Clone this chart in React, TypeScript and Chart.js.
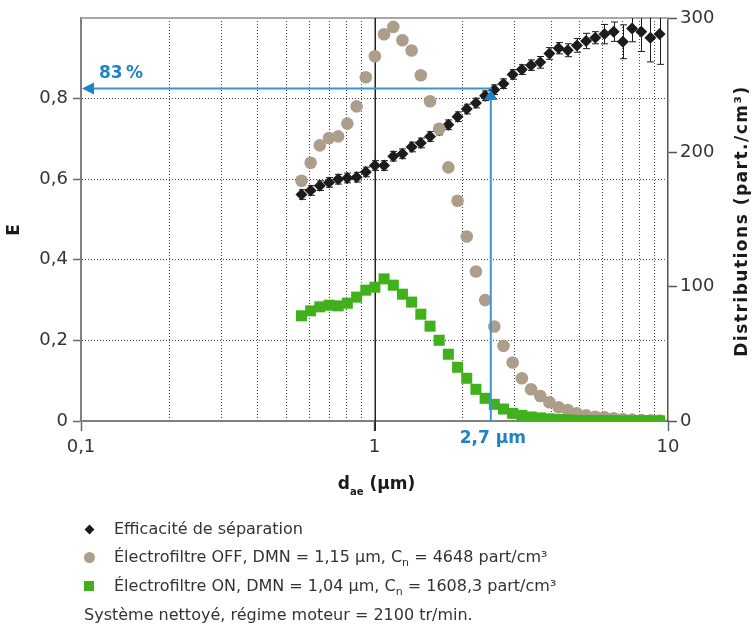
import React, { useEffect, useRef } from "react";
import { Chart, registerables } from "chart.js";

Chart.register(...registerables);

const FONT = "'DejaVu Sans', 'Liberation Sans', sans-serif";

// aerodynamic diameter d_ae (µm), one value per size channel
const diameters = [
  0.564, 0.606, 0.651, 0.7, 0.752, 0.808, 0.869, 0.934, 1.003, 1.078,
  1.159, 1.245, 1.338, 1.438, 1.546, 1.661, 1.785, 1.919, 2.062, 2.216,
  2.382, 2.56, 2.751, 2.956, 3.177, 3.415, 3.67, 3.944, 4.238, 4.555,
  4.895, 5.261, 5.654, 6.076, 6.53, 7.018, 7.542, 8.106, 8.711, 9.362,
];

// separation efficiency E (left axis)
const efficiency = [
  0.562, 0.572, 0.584, 0.592, 0.6, 0.603, 0.605, 0.618, 0.634, 0.634,
  0.657, 0.663, 0.68, 0.69, 0.706, 0.722, 0.735, 0.755, 0.774, 0.789,
  0.807, 0.822, 0.837, 0.86, 0.872, 0.883, 0.89, 0.912, 0.925, 0.92,
  0.932, 0.943, 0.951, 0.96, 0.966, 0.941, 0.974, 0.966, 0.951, 0.96,
];

// +/- error on E
const efficiencyError = [
  0.012, 0.012, 0.012, 0.012, 0.012, 0.012, 0.012, 0.012, 0.012, 0.012,
  0.012, 0.012, 0.012, 0.012, 0.012, 0.012, 0.012, 0.012, 0.012, 0.012,
  0.012, 0.012, 0.012, 0.012, 0.012, 0.013, 0.0145, 0.0145, 0.014, 0.016,
  0.017, 0.019, 0.015, 0.024, 0.024, 0.042, 0.033, 0.049, 0.06, 0.075,
];

// distribution, électrofiltre OFF (right axis, part./cm³)
const distributionOff = [
  178.9, 192.3, 205.2, 210.7, 211.9, 221.4, 234.2, 255.9, 271.5, 287.9,
  293.4, 283.4, 275.8, 257.4, 238.0, 217.6, 188.8, 164.0, 137.4, 111.3,
  90.0, 70.3, 55.9, 43.5, 31.8, 23.6, 18.6, 14.0, 10.2, 8.2,
  5.7, 4.2, 3.2, 2.8, 2.0, 1.5, 1.0, 0.8, 0.5, 0.3,
];

// distribution, électrofiltre ON (right axis, part./cm³)
const distributionOn = [
  78.3, 82.0, 85.0, 86.2, 85.7, 87.7, 92.2, 97.4, 99.6, 105.8,
  101.1, 94.4, 88.5, 79.5, 70.6, 60.1, 49.7, 40.0, 31.8, 23.6,
  16.9, 12.4, 8.9, 5.7, 4.2, 3.0, 2.3, 1.6, 1.1, 0.8,
  0.5, 0.4, 0.3, 0.3, 0.2, 0.2, 0.2, 0.2, 0.1, 0.1,
];

const xGridValues = [0.1, 0.2, 0.3, 0.4, 0.5, 0.6, 0.7, 0.8, 0.9, 1, 2, 3, 4, 5, 6, 7, 8, 9, 10];
const xLabelValues = [0.1, 1, 10];
const xLabelTexts = ["0,1", "1", "10"];
const leftTickValues = [0, 0.2, 0.4, 0.6, 0.8, 1];
const leftTickLabels = ["0", "0,2", "0,4", "0,6", "0,8", ""];
const rightTickValues = [0, 100, 200, 300];
const rightTickLabels = ["0", "100", "200", "300"];

const cutEfficiency = 0.825;
const cutDiameter = 2.49;
const cutEfficiencyLabel = "83\u2009%";
const cutDiameterLabel = "2,7 µm";

const leftTitle = "E";
const rightTitle = "Distributions (part./cm³)";
const xTitleMain = "d";
const xTitleSub = "ae";
const xTitleRest = " (µm)";

const seriesNames = [
  "Efficacité de séparation",
  "Électrofiltre OFF, DMN = 1,15 µm, C",
  "Électrofiltre ON, DMN = 1,04 µm, C",
];
const seriesNameTails = ["", " = 4648 part/cm³", " = 1608,3 part/cm³"];
const footnote = "Système nettoyé, régime moteur = 2100 tr/min.";

const COLOR_EFF = "#1c1c1c";
const COLOR_OFF = "#ad9e8c";
const COLOR_ON = "#40b11c";
const COLOR_BLUE = "#1f84c6";
const COLOR_BLUE_LINE = "#3a96d2";
const TRANSPARENT = "rgba(0,0,0,0)";
const GRID_DOT = [1, 2];

function lookup(values: number[], labels: string[], v: number): string {
  const i = values.findIndex((t) => Math.abs(t - v) < 1e-6);
  return i >= 0 ? labels[i] : "";
}
function isIn(values: number[], v: number): boolean {
  return values.some((t) => Math.abs(t - v) < 1e-6);
}

const decorPlugin = {
  id: "decor",
  beforeDatasetsDraw(chart: any) {
    const { ctx, chartArea } = chart;
    const xs = chart.scales.x;
    ctx.save();
    // top frame
    ctx.strokeStyle = "#a8a8a8";
    ctx.lineWidth = 2;
    ctx.beginPath();
    ctx.moveTo(chartArea.left, chartArea.top);
    ctx.lineTo(chartArea.right, chartArea.top);
    ctx.stroke();
    // solid line at 1 µm
    const x1 = Math.round(xs.getPixelForValue(1)) + 0.25;
    ctx.strokeStyle = "#222";
    ctx.lineWidth = 1.5;
    ctx.beginPath();
    ctx.moveTo(x1, chartArea.top);
    ctx.lineTo(x1, chartArea.bottom + 10);
    ctx.stroke();
    ctx.restore();
  },
  beforeDatasetDraw(chart: any, args: any) {
    if (args.index !== 0) return;
    const { ctx, chartArea } = chart;
    const xs = chart.scales.x;
    const ys = chart.scales.y;
    ctx.save();
    ctx.beginPath();
    ctx.rect(chartArea.left, chartArea.top, chartArea.right - chartArea.left, chartArea.bottom - chartArea.top);
    ctx.clip();
    ctx.strokeStyle = COLOR_EFF;
    ctx.lineWidth = 1;
    diameters.forEach((d, i) => {
      const px = Math.round(xs.getPixelForValue(d)) + 0.5;
      const yTop = ys.getPixelForValue(efficiency[i] + efficiencyError[i]);
      const yBot = ys.getPixelForValue(efficiency[i] - efficiencyError[i]);
      ctx.beginPath();
      ctx.moveTo(px, yTop);
      ctx.lineTo(px, yBot);
      ctx.moveTo(px - 3.5, yTop);
      ctx.lineTo(px + 3.5, yTop);
      ctx.moveTo(px - 3.5, yBot);
      ctx.lineTo(px + 3.5, yBot);
      ctx.stroke();
    });
    ctx.restore();
  },
  afterDatasetsDraw(chart: any) {
    const { ctx, chartArea } = chart;
    const xs = chart.scales.x;
    const ys = chart.scales.y;
    const yP = ys.getPixelForValue(cutEfficiency);
    const xP = xs.getPixelForValue(cutDiameter);
    ctx.save();
    ctx.strokeStyle = COLOR_BLUE_LINE;
    ctx.lineWidth = 2;
    ctx.beginPath();
    ctx.moveTo(chartArea.left + 10, yP);
    ctx.lineTo(xP + 1, yP);
    ctx.stroke();
    ctx.beginPath();
    ctx.moveTo(xP, yP + 8);
    ctx.lineTo(xP, chartArea.bottom);
    ctx.stroke();
    ctx.fillStyle = COLOR_BLUE;
    ctx.beginPath();
    ctx.moveTo(chartArea.left + 1, yP);
    ctx.lineTo(chartArea.left + 13, yP - 6);
    ctx.lineTo(chartArea.left + 13, yP + 6);
    ctx.closePath();
    ctx.fill();
    ctx.beginPath();
    ctx.moveTo(xP, yP + 1.5);
    ctx.lineTo(xP - 7, yP + 11.5);
    ctx.lineTo(xP + 7, yP + 11.5);
    ctx.closePath();
    ctx.fill();
    ctx.font = `bold 17px ${FONT}`;
    ctx.textAlign = "center";
    ctx.textBaseline = "middle";
    ctx.fillText(cutEfficiencyLabel, chartArea.left + 40, yP - 15);
    ctx.fillText(cutDiameterLabel, xP + 2, chartArea.bottom + 18);
    ctx.restore();
  },
  afterDraw(chart: any) {
    const { ctx, chartArea } = chart;
    ctx.save();
    ctx.fillStyle = "#1a1a1a";
    ctx.textAlign = "center";
    ctx.textBaseline = "middle";
    // left title
    ctx.save();
    ctx.translate(15, 230);
    ctx.rotate(-Math.PI / 2);
    ctx.font = `bold 17px ${FONT}`;
    ctx.fillText(leftTitle, 0, 0);
    ctx.restore();
    // right title
    ctx.save();
    ctx.translate(743, 221);
    ctx.rotate(-Math.PI / 2);
    ctx.font = `bold 17px ${FONT}`;
    (ctx as any).letterSpacing = "1.5px";
    ctx.fillText(rightTitle, 0, 0);
    (ctx as any).letterSpacing = "0px";
    ctx.restore();
    // x title with subscript
    const big = `bold 17px ${FONT}`;
    const small = `bold 10px ${FONT}`;
    ctx.textAlign = "left";
    ctx.textBaseline = "alphabetic";
    ctx.font = big;
    const w1 = ctx.measureText(xTitleMain).width;
    const w3 = ctx.measureText(xTitleRest).width;
    ctx.font = small;
    const w2 = ctx.measureText(xTitleSub).width;
    const total = w1 + w2 + w3;
    const cx = (chartArea.left + chartArea.right) / 2 + 2;
    const base = chartArea.bottom + 68;
    let x = cx - total / 2;
    ctx.font = big;
    ctx.fillText(xTitleMain, x, base);
    x += w1;
    ctx.font = small;
    ctx.fillText(xTitleSub, x, base + 6);
    x += w2;
    ctx.font = big;
    ctx.fillText(xTitleRest, x, base);
    ctx.restore();
  },
};

export default function App() {
  const canvasRef = useRef<HTMLCanvasElement | null>(null);

  useEffect(() => {
    const canvas = canvasRef.current;
    if (!canvas) return;
    const tickFont = { family: FONT, size: 18 };
    const chart = new Chart(canvas, {
      type: "scatter",
      data: {
        datasets: [
          {
            label: seriesNames[0],
            data: diameters.map((d, i) => ({ x: d, y: efficiency[i] })),
            yAxisID: "y",
            pointStyle: "rectRot",
            pointRadius: 6,
            backgroundColor: COLOR_EFF,
            borderWidth: 0,
            order: 3,
            clip: 0,
          },
          {
            label: seriesNames[1],
            data: diameters.map((d, i) => ({ x: d, y: distributionOff[i] })),
            yAxisID: "y2",
            pointStyle: "circle",
            pointRadius: 6.3,
            backgroundColor: COLOR_OFF,
            borderWidth: 0,
            order: 2,
            clip: 0,
          },
          {
            label: seriesNames[2],
            data: diameters.map((d, i) => ({ x: d, y: distributionOn[i] })),
            yAxisID: "y2",
            pointStyle: "rect",
            pointRadius: 7.8,
            backgroundColor: COLOR_ON,
            borderWidth: 0,
            order: 1,
            clip: 0,
          },
        ],
      } as any,
      options: {
        responsive: false,
        animation: false,
        events: [],
        layout: { padding: { top: 18, left: 0, right: 0, bottom: 0 } },
        plugins: { legend: { display: false }, tooltip: { enabled: false } },
        scales: {
          x: {
            type: "logarithmic",
            position: "bottom",
            min: 0.1,
            max: 10,
            afterFit: (s: any) => {
              s.height = 209;
            },
            afterBuildTicks: (s: any) => {
              s.ticks = xGridValues.map((v) => ({ value: v }));
            },
            ticks: {
              autoSkip: false,
              maxRotation: 0,
              minRotation: 0,
              padding: 6,
              color: "#333",
              font: tickFont,
              callback: (v: any) => lookup(xLabelValues, xLabelTexts, Number(v)),
            },
            grid: {
              color: (c: any) => (c.tick && isIn(xLabelValues, c.tick.value) ? TRANSPARENT : "#444"),
              lineWidth: 1,
              borderDash: GRID_DOT,
              tickLength: 10,
              tickWidth: 1.5,
              tickColor: (c: any) => (c.tick && isIn(xLabelValues, c.tick.value) ? "#666" : TRANSPARENT),
            },
            border: { display: true, color: "#808080", width: 2, dash: GRID_DOT },
          },
          y: {
            type: "linear",
            position: "left",
            min: 0,
            max: 1,
            afterFit: (s: any) => {
              s.width = 81;
            },
            afterBuildTicks: (s: any) => {
              s.ticks = leftTickValues.map((v) => ({ value: v }));
            },
            ticks: {
              padding: 5,
              color: "#333",
              font: tickFont,
              callback: (v: any) => lookup(leftTickValues, leftTickLabels, Number(v)),
            },
            grid: {
              color: (c: any) =>
                c.tick && (Math.abs(c.tick.value) < 1e-6 || Math.abs(c.tick.value - 1) < 1e-6) ? TRANSPARENT : "#444",
              lineWidth: 1,
              borderDash: GRID_DOT,
              tickLength: 8,
              tickWidth: 1.5,
              tickColor: (c: any) => (c.tick && Math.abs(c.tick.value - 1) < 1e-6 ? TRANSPARENT : "#666"),
            },
            border: { display: true, color: "#808080", width: 2, dash: GRID_DOT },
          },
          y2: {
            type: "linear",
            position: "right",
            min: 0,
            max: 300,
            afterFit: (s: any) => {
              s.width = 84;
            },
            afterBuildTicks: (s: any) => {
              s.ticks = rightTickValues.map((v) => ({ value: v }));
            },
            ticks: {
              padding: 3,
              color: "#333",
              font: tickFont,
              callback: (v: any) => lookup(rightTickValues, rightTickLabels, Number(v)),
            },
            grid: {
              drawOnChartArea: false,
              tickLength: 9,
              tickWidth: 1.5,
              tickColor: "#555",
            },
            border: { display: true, color: "#555", width: 1.5 },
          },
        },
      } as any,
      plugins: [decorPlugin as any],
    });
    return () => chart.destroy();
  }, []);

  const rowCenters = [529, 557, 586];
  const textStyle: React.CSSProperties = {
    position: "absolute",
    left: 114,
    height: 20,
    lineHeight: "20px",
    fontFamily: FONT,
    fontSize: 16,
    color: "#333",
    whiteSpace: "nowrap",
  };
  const markers: React.CSSProperties[] = [
    { width: 7, height: 7, background: COLOR_EFF, transform: "rotate(45deg)" },
    { width: 11, height: 11, background: COLOR_OFF, borderRadius: "50%" },
    { width: 10, height: 10, background: COLOR_ON },
  ];

  return (
    <div style={{ position: "absolute", left: 0, top: 0, width: 752, height: 630, background: "#fff" }}>
      <canvas
        ref={canvasRef}
        width={752}
        height={630}
        style={{ position: "absolute", left: 0, top: 0, width: 752, height: 630 }}
      />
      {seriesNames.map((name, i) => {
        const m = markers[i];
        const w = Number(m.width);
        const h = Number(m.height);
        return (
          <React.Fragment key={name}>
            <div
              style={{
                position: "absolute",
                left: 89 - w / 2,
                top: rowCenters[i] - h / 2,
                ...m,
              }}
            />
            <div style={{ ...textStyle, top: rowCenters[i] - 10 }}>
              {name}
              {i > 0 ? (
                <span style={{ fontSize: 11, verticalAlign: "-4px", lineHeight: "0" }}>n</span>
              ) : null}
              {seriesNameTails[i]}
            </div>
          </React.Fragment>
        );
      })}
      <div style={{ ...textStyle, left: 84, top: 615 - 10 }}>{footnote}</div>
    </div>
  );
}
